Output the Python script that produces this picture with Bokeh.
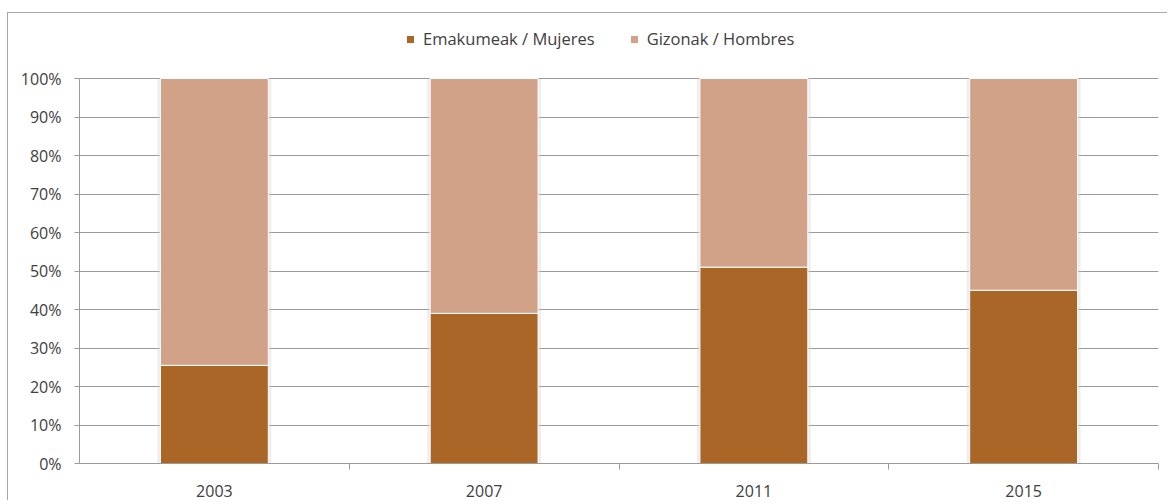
from bokeh.plotting import figure
from bokeh.models import (Range1d, FixedTicker, PrintfTickFormatter, CustomJSTickFormatter,
                          ColumnDataSource)
from bokeh.embed import file_html
from bokeh.resources import INLINE

# ---- data ----
years = ["2003", "2007", "2011", "2015"]
mujeres = [25.5, 39.0, 51.0, 45.0]
hombres = [74.5, 61.0, 49.0, 55.0]
series_names = ["Emakumeak / Mujeres", "Gizonak / Hombres"]
colors = ["#AA6626", "#D1A288"]
y_ticks = [0, 10, 20, 30, 40, 50, 60, 70, 80, 90, 100]

xpos = [i + 0.5 for i in range(len(years))]
totals = [m + h for m, h in zip(mujeres, hombres)]
src = ColumnDataSource(dict(x=xpos, year=years, mujeres=mujeres, hombres=hombres, total=totals))

FONT = "Open Sans"
TXT = "#404040"
GRID = "#9a9a9a"

# frame spans from legend area (top) to the 0% line; 100% sits 53px under frame top
Y_END = 100 + 53 / 3.85

p = figure(width=1160, height=488, output_backend="svg", toolbar_location=None,
           x_range=Range1d(0, len(years)), y_range=Range1d(0, Y_END),
           min_border_left=71, min_border_right=10, min_border_top=12, min_border_bottom=38,
           styles={"position": "relative", "top": "12px", "left": "7px",
                   "border-top": "1px solid #a6a6a6", "border-left": "1px solid #a6a6a6"})
p.outline_line_color = None

# subtle shadow behind bars
p.vbar(x="x", top="total", bottom=0, width=0.4 + 6 / 270, source=src,
       fill_color="#cfcfcf", fill_alpha=0.35, line_color=None)

p.vbar_stack(["mujeres", "hombres"], x="x", width=0.4, source=src,
             fill_color=colors, line_color="white", line_width=1,
             legend_label=series_names)

# x axis
xa = p.xaxis[0]
xa.ticker = FixedTicker(ticks=xpos, minor_ticks=list(range(1, len(years) + 1)))
xa.formatter = CustomJSTickFormatter(args=dict(labels=years),
                                     code="return labels[Math.floor(tick)];")
xa.major_tick_out = 0
xa.major_tick_in = 0
xa.minor_tick_out = 6
xa.minor_tick_in = 0
xa.minor_tick_line_color = GRID
xa.axis_line_color = GRID
xa.major_label_standoff = 15
xa.major_label_text_font = FONT
xa.major_label_text_font_size = "16px"
xa.major_label_text_color = TXT

# y axis
ya = p.yaxis[0]
ya.ticker = FixedTicker(ticks=y_ticks)
ya.bounds = (0, 100)
ya.formatter = PrintfTickFormatter(format="%d%%")
ya.major_tick_out = 5
ya.major_tick_in = 0
ya.minor_tick_line_color = None
ya.major_tick_line_color = GRID
ya.axis_line_color = GRID
ya.major_label_standoff = 13
ya.major_label_text_font = FONT
ya.major_label_text_font_size = "16px"
ya.major_label_text_color = TXT

p.xgrid.grid_line_color = None
p.ygrid.grid_line_color = GRID
p.ygrid.ticker = FixedTicker(ticks=y_ticks)

# legend
lg = p.legend[0]
lg.orientation = "horizontal"
lg.location = (326, 413)
lg.border_line_color = None
lg.background_fill_alpha = 0
lg.padding = 0
lg.margin = 0
lg.spacing = 34
lg.label_standoff = 8
lg.glyph_width = 10
lg.glyph_height = 10
lg.label_height = 20
lg.label_text_font = FONT
lg.label_text_font_size = "16.5px"
lg.label_text_color = TXT

open("out.html", "w").write(file_html(p, INLINE))
